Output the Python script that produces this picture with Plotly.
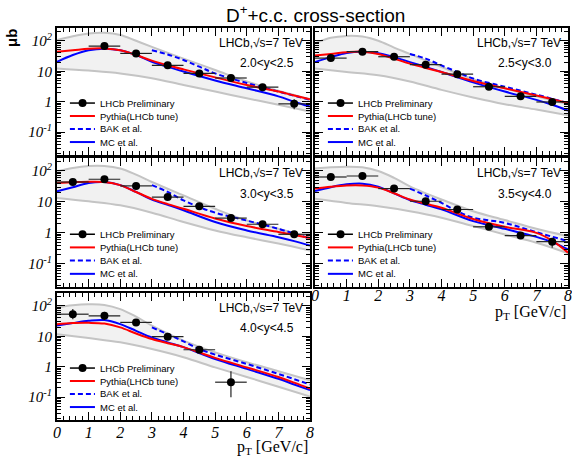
import plotly.graph_objects as go

# ---------------- data (values in microbarn) ----------------
PANEL_LABELS = ["2.0&lt;y&lt;2.5", "2.5&lt;y&lt;3.0", "3.0&lt;y&lt;3.5", "3.5&lt;y&lt;4.0", "4.0&lt;y&lt;4.5"]

X_CURVE = [0, 0.5, 1, 1.5, 2, 2.5, 3, 3.5, 4, 5, 6, 7, 7.5, 8]
X_BAK = [3, 3.5, 4, 4.5, 5, 6, 7, 8]
X_BAND_UP = [0, 0.5, 1, 1.5, 2, 2.5, 3, 4, 5, 6, 7, 8]
X_BAND_LO = [0, 1, 2, 3, 4, 5, 6, 7, 8]

PYTHIA = [
    [44, 49, 55, 56, 49, 34, 22.4, 15.8, 11.5, 6.3, 3.55, 2.15, 1.6, 1.2],
    [33, 37, 42, 44, 37, 26, 17.8, 12.8, 9.5, 4.8, 2.75, 1.6, 1.2, 0.91],
    [41, 43, 45, 44, 35, 21, 12.6, 8.5, 6.0, 2.9, 1.66, 1.07, 0.85, 0.68],
    [27, 31, 34, 34, 29, 19, 12, 8.7, 6.5, 2.8, 1.57, 1.0, 0.56, 0.23],
    [25, 27, 27.5, 26, 19.5, 12.3, 8.1, 5.9, 4.4, 1.95, 0.95, 0.46, 0.3, 0.19],
]
MC = [
    [20.4, 34, 49, 55, 49, 34, 20.4, 14.1, 9.8, 5.0, 2.75, 1.5, 1.0, 0.69],
    [20, 29, 40, 44, 39, 29, 20, 13.8, 9.5, 4.3, 2.15, 1.15, 0.79, 0.51],
    [21.9, 30, 41, 44, 35, 21, 12, 8.1, 5.4, 2.25, 1.2, 0.72, 0.54, 0.39],
    [22.4, 30, 37, 39, 31, 19, 11.5, 8.1, 5.75, 2.4, 1.35, 0.74, 0.5, 0.29],
    [22.4, 27, 32, 34, 25, 15.1, 9.1, 6.3, 4.4, 1.8, 0.85, 0.40, 0.26, 0.17],
]
BAK = [
    [49, 35.5, 23.4, 14.1, 8.5, 4.1, 2.15, 1.15],
    [37, 26, 15.5, 9.5, 5.75, 3.1, 1.7, 0.91],
    [35, 21, 11.2, 6.8, 4.5, 2.5, 1.35, 0.65],
    [27, 16.2, 9.3, 5.0, 3.1, 2.1, 1.05, 0.54],
    [19.5, 11.7, 6.8, 3.8, 2.5, 1.23, 0.58, 0.26],
]
BAND_UP = [
    [105, 141, 174, 182, 155, 100, 63, 26, 11, 4.6, 2.3, 1.2],
    [83, 126, 145, 138, 100, 60, 37, 13.8, 5.5, 2.75, 1.5, 0.83],
    [98, 126, 145, 145, 120, 76, 44, 16.2, 6.0, 2.5, 1.35, 0.72],
    [120, 132, 138, 132, 100, 60, 32, 12, 5.0, 2.6, 1.35, 0.78],
    [89, 105, 112, 107, 78, 44, 22.4, 7.2, 2.95, 1.4, 0.71, 0.355],
]
BAND_LO = [
    [12.4, 10.5, 8.5, 5.9, 3.55, 2.15, 1.3, 0.79, 0.48],
    [12.3, 9.5, 7.4, 4.6, 2.45, 1.38, 0.83, 0.55, 0.36],
    [13.5, 10.5, 7.8, 4.5, 2.25, 1.2, 0.72, 0.45, 0.27],
    [12.6, 9.3, 7.2, 5.0, 3.1, 1.66, 0.89, 0.48, 0.22],
    [11.7, 8.7, 6.3, 3.8, 2.05, 0.95, 0.46, 0.22, 0.105],
]
DATA_X = [
    [1.5, 2.5, 3.5, 4.5, 5.5, 6.5, 7.5],
    [0.5, 1.5, 2.5, 3.5, 4.5, 5.5, 6.5, 7.5],
    [0.5, 1.5, 2.5, 3.5, 4.5, 5.5, 6.5, 7.5],
    [0.5, 1.5, 2.5, 3.5, 4.5, 5.5, 6.5, 7.5],
    [0.5, 1.5, 2.5, 3.5, 4.5, 5.5],
]
DATA_Y = [
    [67, 38.5, 15.6, 8.5, 6.0, 3.0, 0.85],
    [27, 44, 30, 16.4, 8.0, 3.1, 1.5, 0.98],
    [44, 54, 33, 14.4, 7.2, 3.0, 1.9, 0.9],
    [64, 69, 27, 10.5, 5.7, 1.57, 0.82, 0.52],
    [53, 47, 28.5, 9.7, 3.6, 0.31],
]
DATA_EPLUS = [
    [8, 5, 2, 1.1, 0.8, 0.4, 0.35],
    [3, 5, 3.5, 2, 1, 0.4, 0.2, 0.12],
    [5, 7, 4, 2, 1, 0.4, 0.25, 0.15],
    [10, 10, 4, 1.5, 0.8, 0.25, 0.15, 0.16],
    [25, 16, 5, 2, 0.8, 0.4],
]
DATA_EMINUS = [
    [8, 5, 2, 1.1, 0.8, 0.4, 0.29],
    [3, 5, 3.5, 2, 1, 0.4, 0.2, 0.12],
    [5, 7, 4, 2, 1, 0.4, 0.25, 0.15],
    [10, 10, 4, 1.5, 0.8, 0.25, 0.15, 0.19],
    [17, 13, 5, 2, 0.8, 0.21],
]
LEGEND_NAMES = ["LHCb Preliminary", "Pythia(LHCb tune)", "BAK et al.", "MC et al."]
Y_TICKVALS = [0.1, 1, 10, 100]
Y_TICKTEXT = ["10<sup>-1</sup>", "1", "10", "10<sup>2</sup>"]
X_TICKVALS = [0, 1, 2, 3, 4, 5, 6, 7, 8]

# ---------------- layout geometry ----------------
W, H = 572, 458
COLS = [(57 / W, 310 / W), (315 / W, 568 / W)]
ROWS = [(1 - 155 / H, 1 - 28 / H), (1 - 287 / H, 1 - 158 / H), (1 - 420 / H, 1 - 293 / H)]
POS = [(0, 0), (0, 1), (1, 0), (1, 1), (2, 0)]

RED = "#ff0000"
BLUE = "#0000ff"
BAND_LINE = "#c4c4c4"
BAND_FILL = "#f1f1f1"
SANS = "Liberation Sans, Arial, sans-serif"
SERIF = "Liberation Serif, Times New Roman, serif"
DASH = "5px,3px"

minor_y = [k * 10 ** d for d in range(-2, 3) for k in range(2, 10)]

fig = go.Figure()
shapes = []
annotations = []

for i in range(5):
    n = i + 1
    xa = "x" if n == 1 else f"x{n}"
    ya = "y" if n == 1 else f"y{n}"
    r, c = POS[i]

    # uncertainty band
    fig.add_trace(go.Scatter(x=X_BAND_LO, y=BAND_LO[i], mode="lines", line=dict(color=BAND_LINE, width=2, shape="spline"),
                             xaxis=xa, yaxis=ya, showlegend=False, hoverinfo="skip"))
    fig.add_trace(go.Scatter(x=X_BAND_UP, y=BAND_UP[i], mode="lines", line=dict(color=BAND_LINE, width=2, shape="spline"),
                             fill="tonexty", fillcolor=BAND_FILL,
                             xaxis=xa, yaxis=ya, showlegend=False, hoverinfo="skip"))
    # theory curves
    fig.add_trace(go.Scatter(x=X_BAK, y=BAK[i], mode="lines", line=dict(color=BLUE, width=2, dash=DASH, shape="spline"),
                             xaxis=xa, yaxis=ya, name=LEGEND_NAMES[2], showlegend=False))
    fig.add_trace(go.Scatter(x=X_CURVE, y=MC[i], mode="lines", line=dict(color=BLUE, width=2, shape="spline"),
                             xaxis=xa, yaxis=ya, name=LEGEND_NAMES[3], showlegend=False))
    fig.add_trace(go.Scatter(x=X_CURVE, y=PYTHIA[i], mode="lines", line=dict(color=RED, width=2, shape="spline"),
                             xaxis=xa, yaxis=ya, name=LEGEND_NAMES[1], showlegend=False))
    # data
    fig.add_trace(go.Scatter(x=DATA_X[i], y=DATA_Y[i], mode="markers",
                             marker=dict(color="black", size=8),
                             error_x=dict(type="constant", value=0.5, color="#222222", thickness=1.2, width=0),
                             error_y=dict(type="data", array=DATA_EPLUS[i], arrayminus=DATA_EMINUS[i],
                                          color="#222222", thickness=1.2, width=0),
                             xaxis=xa, yaxis=ya, name=LEGEND_NAMES[0], showlegend=False))

    show_x = i in (3, 4)
    show_y = c == 0
    axis_common = dict(showline=True, linewidth=2, linecolor="black", mirror="ticks",
                       ticks="inside", ticklen=8, tickwidth=1, tickcolor="black",
                       showgrid=False, zeroline=False, automargin=False)
    fig.layout[f"xaxis{'' if n == 1 else n}"] = dict(
        domain=list(COLS[c]), anchor=ya, range=[0, 8], tickvals=X_TICKVALS,
        minor=dict(dtick=0.2, ticks="inside", ticklen=4, tickcolor="black", showgrid=False),
        showticklabels=show_x, ticklabelstandoff=(-7 if i == 3 else -3),
        tickfont=dict(family=SERIF, size=16, color="black", style="italic"),
        **axis_common)
    fig.layout[f"yaxis{'' if n == 1 else n}"] = dict(
        domain=list(ROWS[r]), anchor=xa, type="log", range=[-1.75, 2.42],
        tickvals=Y_TICKVALS, ticktext=Y_TICKTEXT, showticklabels=show_y,
        minor=dict(tickvals=minor_y, ticks="inside", ticklen=4, tickcolor="black", showgrid=False),
        tickfont=dict(family=SERIF, size=15, color="black", style="italic"),
        **axis_common)

    xd = f"{xa} domain"
    yd = f"{ya} domain"
    # panel labels
    annotations.append(dict(text="LHCb,√s=7 TeV", xref=xd, yref=yd, x=0.98, y=0.882, xanchor="right", yanchor="middle",
                            showarrow=False, font=dict(family=SANS, size=12, color="black")))
    annotations.append(dict(text=PANEL_LABELS[i], xref=xd, yref=yd, x=0.945, y=0.724, xanchor="right", yanchor="middle",
                            showarrow=False, font=dict(family=SANS, size=12, color="black")))
    # legend block
    ent_y = [0.409, 0.307, 0.205, 0.102]
    styles = [("black", "solid", 1.5), (RED, "solid", 2), (BLUE, DASH, 2), (BLUE, "solid", 2)]
    for k in range(4):
        col, dash, lw = styles[k]
        shapes.append(dict(type="line", xref=xd, yref=yd, x0=0.051, x1=0.150, y0=ent_y[k], y1=ent_y[k],
                           line=dict(color=col, width=lw, dash=dash)))
        annotations.append(dict(text=LEGEND_NAMES[k], xref=xd, yref=yd, x=0.162, y=ent_y[k], xanchor="left",
                                yanchor="middle", showarrow=False, font=dict(family=SANS, size=9.5, color="black")))
    shapes.append(dict(type="circle", xref=xd, yref=yd, x0=0.101 - 0.0158, x1=0.101 + 0.0158,
                       y0=ent_y[0] - 0.0315, y1=ent_y[0] + 0.0315, fillcolor="black", line=dict(color="black", width=0)))
    if show_x:
        annotations.append(dict(text="p<sub>T</sub> [GeV/c]", xref=xd, yref=yd, x=1.0,
                                y=(-0.2 if i == 3 else -0.215), xanchor="right",
                                yanchor="middle", showarrow=False, font=dict(family=SERIF, size=16, color="black")))

annotations.append(dict(text="D<sup>+</sup>+c.c. cross-section", xref="paper", yref="paper", x=315 / W, y=1 - 14 / H,
                        xanchor="center", yanchor="middle", showarrow=False,
                        font=dict(family=SANS, size=19, color="black")))
annotations.append(dict(text="<b>μb</b>", xref="paper", yref="paper", x=12 / W, y=1 - 38 / H, textangle=-90,
                        xanchor="center", yanchor="middle", showarrow=False,
                        font=dict(family=SANS, size=15, color="black")))

fig.update_layout(width=W, height=H, margin=dict(l=0, r=0, t=0, b=0),
                  paper_bgcolor="white", plot_bgcolor="white", showlegend=False,
                  shapes=shapes, annotations=annotations)
fig.write_html("out.html", config={"displayModeBar": False},
               post_script="document.body.style.margin='0px';document.body.style.overflow='hidden';")
